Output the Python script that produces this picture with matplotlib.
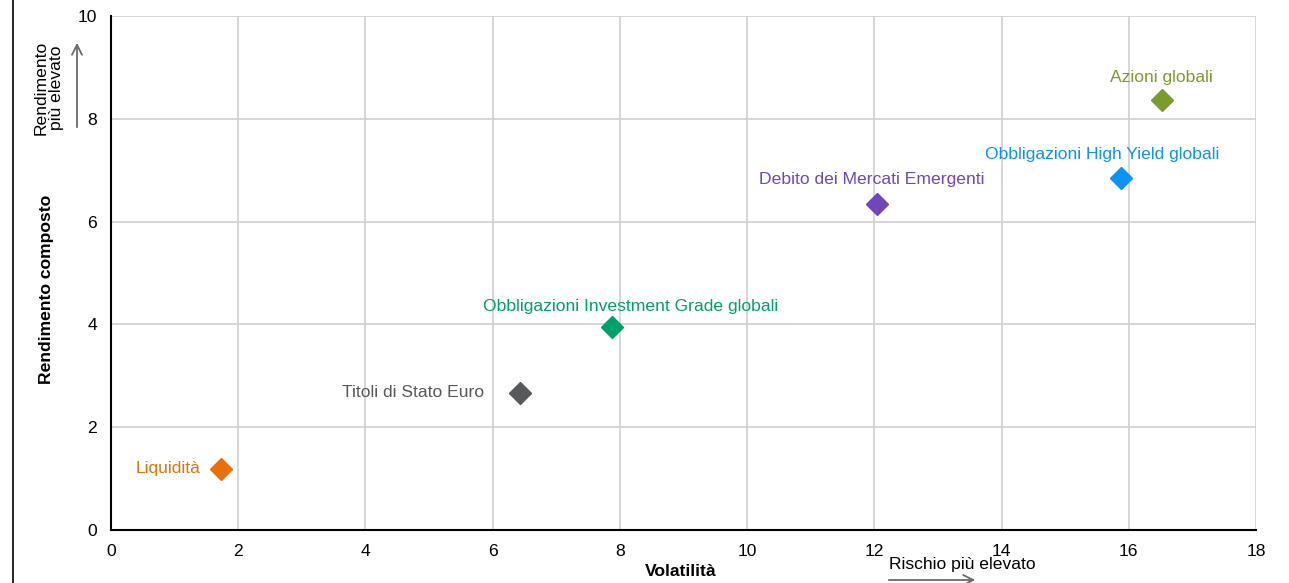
import matplotlib
matplotlib.use("Agg")
import matplotlib.pyplot as plt
from matplotlib.lines import Line2D

plt.rcParams['font.family'] = ['Liberation Sans', 'DejaVu Sans']

names = ["Liquidità", "Titoli di Stato Euro", "Obbligazioni Investment Grade globali",
         "Debito dei Mercati Emergenti", "Obbligazioni High Yield globali", "Azioni globali"]
volatility = [1.73, 6.43, 7.88, 12.04, 15.88, 16.53]
returns = [1.19, 2.67, 3.95, 6.34, 6.85, 8.37]
colors = ["#E8700A", "#58595B", "#00A06B", "#7046BC", "#0A93F5", "#7A9C2E"]
xticks = [0, 2, 4, 6, 8, 10, 12, 14, 16, 18]
yticks = [0, 2, 4, 6, 8, 10]

# label placement: (dx, dy in points, ha, va)
label_pos = [(-15, 0, 'right', 'center'),
             (-26, 0, 'right', 'center'),
             (13, 15, 'center', 'center'),
             (-4, 18, 'center', 'center'),
             (-14, 17, 'center', 'center'),
             (-1, 16, 'center', 'center')]

FS = 12.6

fig = plt.figure(figsize=(12.89, 5.83), dpi=100)
ax = fig.add_axes([111/1289, 1-530/583, (1256-111)/1289, (530-16)/583])

for x, y, c, n, (dx, dy, ha, va) in zip(volatility, returns, colors, names, label_pos):
    ax.plot([x], [y], marker='D', ms=11, color=c, linestyle='none', zorder=3, clip_on=False)
    ax.annotate(n, (x, y), xytext=(dx, dy), textcoords='offset points',
                ha=ha, va=va, color=c, fontsize=FS)

ax.set_xlim(0, 18)
ax.set_ylim(0, 10)
ax.set_xticks(xticks)
ax.set_yticks(yticks)
ax.grid(True, color='#D0D0D0', linewidth=1.2)
ax.set_axisbelow(True)
for s in ['top', 'right']:
    ax.spines[s].set_visible(False)
for s in ['left', 'bottom']:
    ax.spines[s].set_color('black')
    ax.spines[s].set_linewidth(1.5)
ax.tick_params(length=0, labelsize=FS, pad=10)

ax.set_xlabel("Volatilità", fontsize=FS, fontweight='bold')
ax.xaxis.set_label_coords((681-111)/1145, -(571-530)/514)
ax.set_ylabel("Rendimento composto", fontsize=FS, fontweight='bold')
ax.yaxis.set_label_coords(-(111-47)/1145, (530-289)/514)
ax.yaxis.label.set_va('center')
ax.xaxis.label.set_va('center')

# arrows / annotations
fig.add_artist(Line2D([13/1289, 13/1289], [0, 1], color='black', lw=1.2))
fig.patches.append(matplotlib.patches.FancyArrowPatch(
    (77/1289, 1-130/583), (77/1289, 1-40/583), transform=fig.transFigure,
    arrowstyle='->', mutation_scale=18, color='#6A6A6A', lw=1.3))
fig.text(49/1289, 1-88/583, "Rendimento\npiù elevato", rotation=90,
         ha='center', va='center', fontsize=FS, linespacing=1.05)
fig.patches.append(matplotlib.patches.FancyArrowPatch(
    (886/1289, 1-580/583), (978/1289, 1-580/583), transform=fig.transFigure,
    arrowstyle='->', mutation_scale=18, color='#6A6A6A', lw=1.3))
fig.text(889/1289, 1-565/583, "Rischio più elevato", ha='left', va='center', fontsize=FS)

fig.savefig("out.png", dpi=100)
